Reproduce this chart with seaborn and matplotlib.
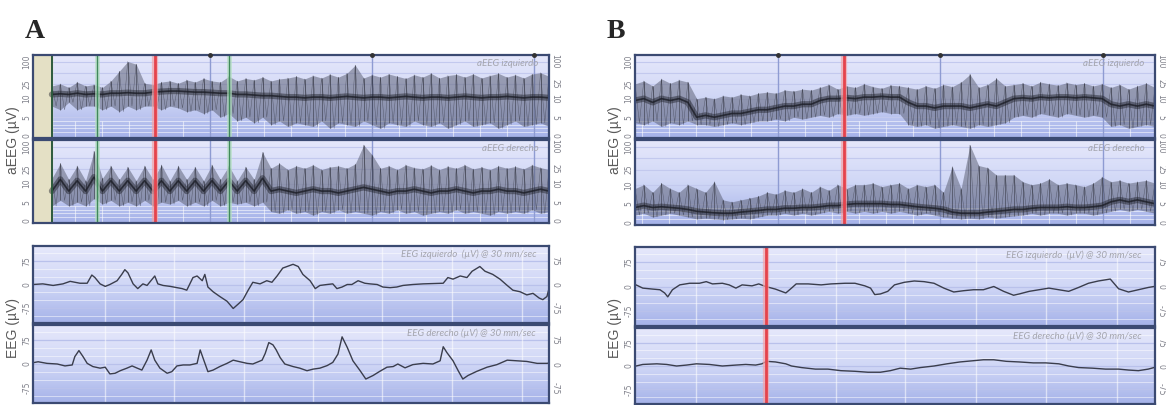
import numpy as np
import matplotlib.pyplot as plt
import seaborn as sns
from matplotlib.colors import LinearSegmentedColormap

# ---------------- aEEG, panel A (uV, one sample every ~3 min) ----------------
a_aeeg_start, a_aeeg_end = 7, 191          # minutes on the strip
a_left_hi = [22, 25, 20, 28, 22, 24, 20, 30, 55, 100, 85, 26,
             24, 28, 30, 26, 32, 28, 35, 30, 28, 40, 30, 35,
             32, 38, 30, 34, 36, 40, 34, 42, 36, 45, 38, 48,
             80, 36, 44, 38, 46, 40, 35, 44, 38, 48, 36, 42,
             45, 38, 46, 36, 42, 48, 38, 44, 36, 46, 50, 40]
a_left_lo = [8, 7, 9, 7, 8, 8, 7, 8, 6.5, 8, 7, 8,
             8, 7, 8, 7.5, 6.5, 7, 6, 7, 5, 6, 4, 5,
             3.5, 5, 3, 4, 2.5, 3.5, 3, 2.5, 4, 2, 3.5, 3,
             2.5, 4, 3, 2, 3.5, 3, 2.5, 4, 3, 2.5, 3.5, 2,
             3, 4, 2.5, 3, 3.5, 2, 3, 4, 2.5, 3, 3.5, 2.5]
a_left_mid = [13, 13.5, 13, 14, 13, 13.5, 13, 14, 14, 14.5, 14, 14,
              15, 15.5, 16, 16, 15.5, 15, 15, 14.5, 14, 14, 13, 13,
              12.5, 12, 12, 11.5, 11, 11, 10.5, 11, 11, 10.5, 11, 11.5,
              11, 10.5, 11, 11, 10.5, 11, 11.5, 11, 10.5, 11, 11, 10.5,
              11, 11.5, 11, 10.5, 11, 11, 11.5, 11, 10.5, 11, 11, 10.5]

a_right_hi = [14, 35, 13, 30, 12, 75, 14, 30, 13, 28, 12, 30,
              13, 32, 12, 30, 13, 28, 12, 32, 13, 30, 12, 28,
              13, 70, 26, 35, 24, 30, 26, 32, 24, 28, 30, 26,
              34, 110, 60, 26, 30, 24, 32, 27, 25, 31, 24, 29,
              26, 32, 25, 28, 24, 30, 26, 29, 25, 32, 27, 24]
a_right_lo = [4, 5.5, 4, 5, 4, 6, 4.5, 5.5, 4, 5, 4, 5.5,
              4, 5, 4.5, 5.5, 4, 5, 4, 5.5, 4, 5, 4.5, 5,
              4, 5, 2.5, 2, 3, 2, 2.5, 1.5, 2.5, 2, 3, 2,
              2.5, 2, 1.5, 2.5, 2, 3, 2, 2.5, 1.5, 2, 2.5, 2,
              3, 2, 2.5, 2, 1.5, 2.5, 2, 2.5, 2, 3, 2, 2.5]
a_right_mid = [8, 13, 8, 12, 8, 15, 8, 12, 8, 12, 8, 12,
               8, 12, 8, 12, 8, 12, 8, 12, 8, 12, 8, 12,
               8, 14, 8, 8.5, 8, 7.5, 8, 8.5, 8, 8, 7.5, 8,
               8.5, 9, 8.5, 8, 7.5, 8, 8, 8.5, 8, 7.5, 8, 8,
               8.5, 8, 7.5, 8, 8, 8.5, 8, 8, 7.5, 8, 8.5, 8]

# ---------------- aEEG, panel B ----------------
b_aeeg_start, b_aeeg_end = 0, 192
b_left_hi = [25, 30, 22, 34, 26, 32, 28, 10, 11, 10, 12, 11,
             13, 12, 14, 15, 14, 17, 16, 18, 17, 20, 24, 18,
             22, 20, 25, 21, 19, 23, 22, 20, 18, 22, 19, 24,
             21, 28, 45, 20, 24, 35, 22, 24, 26, 22, 28, 25,
             23, 27, 24, 26, 22, 25, 20, 24, 18, 22, 26, 20]
b_left_lo = [3.5, 3, 4, 2.5, 3.5, 3, 4, 3, 3, 2.5, 3, 3.5,
             3, 3.5, 4, 4, 4.5, 4, 5, 4.5, 5, 5.5, 5, 6,
             5.5, 6, 5.5, 6, 6.5, 6, 6, 3, 2.5, 3, 2, 2.5,
             3, 2.5, 2, 3, 2.5, 3, 3.5, 5, 5.5, 5, 6, 5.5,
             5, 6, 5.5, 5, 5.5, 5, 2.5, 3, 2, 2.5, 3, 2.5]
b_left_mid = [9.5, 10, 9, 10, 9.5, 10, 9, 5, 5.5, 5, 5.5, 6,
              6, 6.5, 7, 7, 7.5, 8, 8, 8.5, 8.5, 9.5, 10, 10,
              10.5, 10, 11, 11, 11.5, 11, 11, 9, 8, 8, 7.5, 8,
              8, 8, 7.5, 8, 8.5, 8, 9, 10, 10.5, 10, 11, 10.5,
              11, 11, 10.5, 11, 10.5, 10, 8.5, 8, 8.5, 8, 8.5, 8]

b_right_hi = [9, 10, 8, 11, 9, 8, 10, 9, 8, 12, 6, 5.5,
              6, 6.5, 7, 8, 7.5, 8.5, 8, 9, 8, 9.5, 8.5, 10,
              9, 10, 10, 11, 9.5, 10, 11, 9, 10, 9.5, 10, 8,
              30, 9, 110, 32, 28, 18, 18, 18, 12, 10, 11, 14,
              10, 11, 10, 9.5, 11, 16, 12, 13, 11, 12, 13, 11]
b_right_lo = [2, 2.5, 1.5, 2, 2.5, 2, 1.5, 1, 1.2, 1, 0.8, 1,
              1.2, 1, 1.5, 2, 2, 2.5, 2, 2.5, 2, 2.5, 3, 2.5,
              3, 2.5, 3, 2.5, 3, 2.5, 3, 2.5, 2, 2.5, 2, 1.5,
              1.2, 1, 1.2, 1, 1.5, 1.2, 1.5, 1.8, 2, 2.5, 2, 2.5,
              2.5, 2, 2.5, 2.5, 2, 2.5, 3, 3.5, 3, 3.5, 3, 2.5]
b_right_mid = [4, 4.5, 4, 4.2, 4, 3.8, 3.5, 3, 2.8, 2.6, 2.5, 2.5,
               2.8, 3, 3.2, 3.5, 3.5, 3.8, 3.8, 4, 4, 4.2, 4.5, 4.5,
               4.8, 5, 5, 5, 5, 4.8, 4.8, 4.5, 4.2, 4, 3.8, 3.5,
               2.8, 2.5, 2.5, 2.5, 2.8, 3, 3.2, 3.5, 3.5, 3.8, 4, 4,
               4, 4.2, 4, 4, 4.2, 4.5, 5.5, 6, 5.5, 6, 5.5, 5]

# ---------------- raw EEG epochs (seconds, uV) ----------------
a_eeg_left_t = [0.00, 0.19, 0.39, 0.58, 0.72, 0.91, 1.05, 1.14, 1.20, 1.30, 1.40, 1.49,
                1.63, 1.72, 1.78, 1.84, 1.94, 2.03, 2.13, 2.21, 2.36, 2.42, 2.52, 2.66,
                2.79, 2.89, 2.98, 3.10, 3.18, 3.28, 3.33, 3.39, 3.49, 3.62, 3.76, 3.88,
                3.97, 4.07, 4.17, 4.26, 4.40, 4.53, 4.63, 4.73, 4.84, 4.94, 5.04, 5.14,
                5.23, 5.37, 5.47, 5.56, 5.70, 5.81, 5.89, 5.99, 6.09, 6.18, 6.30, 6.43,
                6.53, 6.67, 6.78, 6.92, 7.05, 7.17, 7.36, 7.56, 7.75, 7.95, 8.04, 8.14,
                8.28, 8.41, 8.51, 8.66, 8.76, 8.91, 9.05, 9.19, 9.30, 9.44, 9.57, 9.69,
                9.81, 9.88, 9.96, 10.00]
a_eeg_left_uv = [0, 2, -3, 2, 10, 4, 4, 30, 22, 2, -6, 0,
                 12, 32, 47, 37, 2, -13, 2, -3, 27, 2, -3, -6,
                 -10, -13, -18, 22, 27, 12, 32, -8, -23, -38, -53, -76,
                 -63, -48, -18, 7, 2, 12, 7, 27, 52, 58, 64, 57,
                 32, 12, -13, -3, 0, 2, -13, -8, 0, 0, 12, 4,
                 2, 0, -8, -10, -8, -3, 0, 2, 3, 4, 22, 17,
                 27, 22, 42, 57, 42, 32, 17, -3, -18, -23, -33, -28,
                 -43, -48, -38, -13]

a_eeg_right_t = [0.00, 0.10, 0.27, 0.47, 0.62, 0.76, 0.81, 0.89, 0.97, 1.05, 1.16, 1.30,
                 1.40, 1.49, 1.59, 1.69, 1.82, 1.92, 2.02, 2.11, 2.21, 2.29, 2.36, 2.46,
                 2.60, 2.69, 2.79, 2.91, 3.04, 3.18, 3.24, 3.31, 3.39, 3.49, 3.62, 3.76,
                 3.88, 4.01, 4.15, 4.26, 4.44, 4.50, 4.57, 4.65, 4.71, 4.79, 4.88, 5.04,
                 5.17, 5.31, 5.43, 5.56, 5.70, 5.81, 5.91, 5.99, 6.09, 6.20, 6.34, 6.45,
                 6.59, 6.72, 6.86, 6.98, 7.07, 7.21, 7.36, 7.56, 7.75, 7.89, 7.95, 8.02,
                 8.14, 8.24, 8.33, 8.43, 8.60, 8.80, 8.99, 9.19, 9.38, 9.57, 9.77, 9.96,
                 10.00]
a_eeg_right_uv = [4, 7, 2, 0, -6, -3, 23, 42, 23, 2, -8, -13,
                  -10, -31, -29, -21, -13, -6, -13, -19, 12, 44, 12, -13,
                  -29, -24, -6, -3, -3, 2, 44, 12, -24, -19, -8, 2,
                  12, 7, 2, 0, 12, 33, 67, 60, 45, 20, 0, -8,
                  -13, -21, -16, -13, -5, 5, 31, 85, 52, 10, -21, -47,
                  -36, -23, -10, -8, 0, -12, -2, 2, 0, 10, 54, 36,
                  10, -21, -47, -36, -23, -10, -2, 12, 10, 8, 2, 2,
                  3]

b_eeg_left_t = [0.02, 0.15, 0.34, 0.48, 0.57, 0.63, 0.72, 0.86, 1.05, 1.24, 1.37, 1.49,
                1.68, 1.81, 1.94, 2.06, 2.25, 2.38, 2.51, 2.70, 2.90, 3.01, 3.10, 3.33,
                3.58, 3.77, 4.04, 4.23, 4.42, 4.53, 4.61, 4.72, 4.86, 4.99, 5.18, 5.37,
                5.56, 5.75, 5.94, 6.13, 6.32, 6.51, 6.70, 6.90, 7.09, 7.28, 7.39, 7.58,
                7.77, 7.96, 8.15, 8.34, 8.53, 8.72, 8.91, 9.14, 9.30, 9.49, 9.68, 9.87,
                9.98]
b_eeg_left_uv = [5, -5, -8, -10, -20, -32, -10, 5, 10, 10, 15, 8,
                 10, 5, -5, 5, 2, 8, 0, -8, -20, -5, 8, 8,
                 5, 8, 10, 10, 2, -5, -25, -23, -15, 5, 13, 17,
                 15, 10, -5, -17, -13, -10, -10, 0, -15, -27, -23, -15,
                 -10, -5, -10, -15, -3, 10, 17, 23, -7, -17, -10, -3,
                 0]

b_eeg_right_t = [0.02, 0.15, 0.42, 0.61, 0.80, 0.99, 1.18, 1.43, 1.68, 1.94, 2.13, 2.32,
                 2.44, 2.53, 2.70, 2.90, 3.01, 3.20, 3.47, 3.71, 3.96, 4.23, 4.48, 4.72,
                 4.91, 5.10, 5.30, 5.49, 5.75, 6.00, 6.25, 6.51, 6.70, 6.90, 7.14, 7.39,
                 7.66, 7.90, 8.15, 8.34, 8.53, 8.80, 9.05, 9.30, 9.49, 9.68, 9.87, 9.98]
b_eeg_right_uv = [0, 5, 7, 5, 0, 3, 7, 5, 0, 3, 5, 3,
                  7, 15, 13, 7, 0, -5, -10, -10, -15, -17, -20, -20,
                  -15, -7, -10, -5, 0, 7, 13, 17, 20, 20, 15, 13,
                  10, 10, 7, 0, -5, -7, -10, -10, -13, -15, -10, -5]

# ---------------- event markers / time grid ----------------
a_green_marks = [23.7, 72.6]      # min
a_red_marks = [45.2]
b_red_marks = [77.3]
b_eeg_red_marks = [2.51]          # s
a_hour_lines = [65.5, 125.5, 185.5]
b_hour_lines = [52.7, 112.7, 172.7]
a_eeg_grid = [1.40, 2.73, 4.09, 5.43, 6.76, 8.12, 9.48]
b_eeg_grid = [1.18, 2.51, 3.87, 5.20, 6.55, 7.90, 9.26]

aeeg_ticks = [0, 5, 10, 25, 100]
eeg_ticks = [75, 0, -75]

# ---------------- figure ----------------
W, H = 1166, 405
sns.set_style('white')
fig = plt.figure(figsize=(W / 100, H / 100), dpi=100)
bg_cmap = LinearSegmentedColormap.from_list('bg', ['#e6e8fb', '#d0d7f6', '#a5b2e9'])

TRACE = '#2b2d38'
FRAME = '#3b4a72'
TICKC = '#7d7e88'
TITLEC = '#a4a5ae'


def fwd(v):
    v = np.asarray(v, dtype=float)
    return np.where(v <= 10, v / 10, 1 + np.log10(np.maximum(v, 10) / 10))


def inv(u):
    u = np.asarray(u, dtype=float)
    return np.where(u <= 1, u * 10, 10 * 10 ** (u - 1))


def box(x0, x1, y0, y1):
    return [x0 / W, 1 - y1 / H, (x1 - x0) / W, (y1 - y0) / H]


def strip(rect, xlim, ylim, ticks, aeeg):
    ax = fig.add_axes(rect)
    if aeeg:
        ax.set_yscale('function', functions=(fwd, inv))
    ax.imshow(np.linspace(0, 1, 256).reshape(-1, 1), extent=(0, 1, 0, 1),
              transform=ax.transAxes, cmap=bg_cmap, aspect='auto',
              interpolation='bilinear', zorder=0)
    ax.set_xlim(*xlim)
    ax.set_ylim(*ylim)
    ax.set_xticks([])
    ax.set_yticks(ticks, [str(t) for t in ticks])
    ax.tick_params(axis='y', length=0, pad=1.0, labelsize=5.5, labelcolor=TICKC,
                   left=False, right=False, labelleft=True, labelright=True)
    for tk in ax.yaxis.get_major_ticks():
        tk.label1.set_rotation(90)
        tk.label1.set_va('center')
        tk.label2.set_rotation(270)
        tk.label2.set_va('center')
    for s in ax.spines.values():
        s.set_color(FRAME)
        s.set_linewidth(1.6)
        s.set_zorder(10)
    return ax


def aeeg_strip(rect, t0, t1, hi, lo, mid, title, hours, top):
    ax = strip(rect, (0, t1), (-0.6, 150), aeeg_ticks, True)
    for v in [100, 50, 25, 10, 5]:
        ax.axhline(v, color='#c3c9ee', lw=0.8, zorder=1)
    for v in [1, 2, 3, 4]:
        ax.axhline(v, color='white', lw=0.7, alpha=0.55, zorder=1)
    ax.vlines(np.arange(hours[0] - 60, t1, 10), -0.6, 4, color='white', lw=0.8,
              alpha=0.55, zorder=1)
    for h in hours:
        ax.axvline(h, color='#8e9bd2', lw=1.0, zorder=2)
    if top:
        ax.plot(hours, [150] * len(hours), 'o', ms=2.5, color='#333',
                clip_on=False, zorder=11)
    t = np.linspace(t0, t1, len(hi))
    dt = t[1] - t[0]
    # compressed raw trace: alternate between upper and lower margin
    zx = np.column_stack([t, t + dt / 2]).ravel()
    zy = np.column_stack([hi, lo]).ravel()
    ax.fill_between(t, lo, hi, color='#565a6e', alpha=0.5, lw=0, zorder=3)
    ax.vlines(t, lo, hi, color=TRACE, lw=0.6, alpha=0.6, zorder=4)
    ax.plot(zx, zy, color=TRACE, lw=0.35, alpha=0.55, zorder=4)
    sns.lineplot(x=t, y=mid, ax=ax, color='#1c1e27', lw=4.5, alpha=0.45, zorder=5)
    sns.lineplot(x=t, y=mid, ax=ax, color='#1c1e27', lw=1.2, alpha=0.8, zorder=5)
    ax.text(0.98, 0.95, title, transform=ax.transAxes, ha='right', va='top',
            fontsize=7, fontstyle='italic', family='Lato', color=TITLEC, zorder=9)
    ax.set_xlim(0, t1)
    ax.set_ylim(-0.6, 150)
    return ax


def eeg_strip(rect, t, uv, title, grid):
    ax = strip(rect, (0, 10), (-122, 122), eeg_ticks, False)
    for v in [100, 50, 25, -25, -50, -100]:
        ax.axhline(v, color='white', lw=0.7, alpha=0.5, zorder=1)
    for v in [75, 0, -75]:
        ax.axhline(v, color='#b9c1eb', lw=0.9, zorder=1)
    for g in grid:
        ax.axvline(g, color='white', lw=1.0, alpha=0.55, zorder=1)
    sns.lineplot(x=t, y=uv, ax=ax, color='#3a3d4c', lw=1.0, zorder=4)
    ax.text(0.975, 0.95, title, transform=ax.transAxes, ha='right', va='top',
            fontsize=7, fontstyle='italic', family='Lato', color=TITLEC, zorder=9)
    ax.set_xlim(0, 10)
    ax.set_ylim(-122, 122)
    return ax


def mark(ax, xs, kind):
    for x in xs:
        if kind == 'red':
            ax.axvline(x, color='#f3a3a7', lw=4.5, alpha=0.7, zorder=6)
            ax.axvline(x, color='#e5434c', lw=2.0, zorder=7)
        else:
            ax.axvline(x, color='#b4dfc1', lw=3.5, alpha=0.7, zorder=6)
            ax.axvline(x, color='#3f8a5a', lw=1.0, zorder=7)


# ---- panel A ----
AX0, AX1 = 33, 549
BX0, BX1 = 635, 1155
ax = aeeg_strip(box(AX0, AX1, 55, 138), a_aeeg_start, a_aeeg_end, a_left_hi, a_left_lo,
                a_left_mid, 'aEEG izquierdo', a_hour_lines, True)
ax2 = aeeg_strip(box(AX0, AX1, 140, 223), a_aeeg_start, a_aeeg_end, a_right_hi, a_right_lo,
                 a_right_mid, 'aEEG derecho', a_hour_lines, False)
for a in (ax, ax2):
    a.axvspan(0, a_aeeg_start, color='#e4e0c5', zorder=2.5)
    a.axvline(a_aeeg_start, color='#2d5a3d', lw=1.4, zorder=7)
    mark(a, a_green_marks, 'green')
    mark(a, a_red_marks, 'red')

eeg_strip(box(AX0, AX1, 246, 323), a_eeg_left_t, a_eeg_left_uv,
          'EEG izquierdo  (\u00b5V) @ 30 mm/sec', a_eeg_grid)
eeg_strip(box(AX0, AX1, 325, 403), a_eeg_right_t, a_eeg_right_uv,
          'EEG derecho (\u00b5V) @ 30 mm/sec', a_eeg_grid)

# ---- panel B ----
bx = aeeg_strip(box(BX0, BX1, 55, 138), b_aeeg_start, b_aeeg_end, b_left_hi, b_left_lo,
                b_left_mid, 'aEEG izquierdo', b_hour_lines, True)
bx2 = aeeg_strip(box(BX0, BX1, 140, 225), b_aeeg_start, b_aeeg_end, b_right_hi, b_right_lo,
                 b_right_mid, 'aEEG derecho', b_hour_lines, False)
for a in (bx, bx2):
    mark(a, b_red_marks, 'red')

be1 = eeg_strip(box(BX0, BX1, 247, 326), b_eeg_left_t, b_eeg_left_uv,
                'EEG izquierdo  (\u00b5V) @ 30 mm/sec', b_eeg_grid)
be2 = eeg_strip(box(BX0, BX1, 328, 404), b_eeg_right_t, b_eeg_right_uv,
                'EEG derecho (\u00b5V) @ 30 mm/sec', b_eeg_grid)
for a in (be1, be2):
    mark(a, b_eeg_red_marks, 'red')

# ---- labels ----
for x in (13, 615):
    fig.text(x / W, 1 - 140 / H, 'aEEG (\u00b5V)', rotation=90, ha='center', va='center',
             fontsize=10, family='Liberation Sans', color='#5a5a5a')
    fig.text(x / W, 1 - 328 / H, 'EEG (\u00b5V)', rotation=90, ha='center', va='center',
             fontsize=10, family='Liberation Sans', color='#5a5a5a')
fig.text(25 / W, 1 - 38 / H, 'A', fontsize=20, fontweight='bold',
         family='Liberation Serif', ha='left', va='baseline')
fig.text(607 / W, 1 - 38 / H, 'B', fontsize=20, fontweight='bold',
         family='Liberation Serif', ha='left', va='baseline')

fig.savefig('out.png', dpi=100, facecolor='white')
